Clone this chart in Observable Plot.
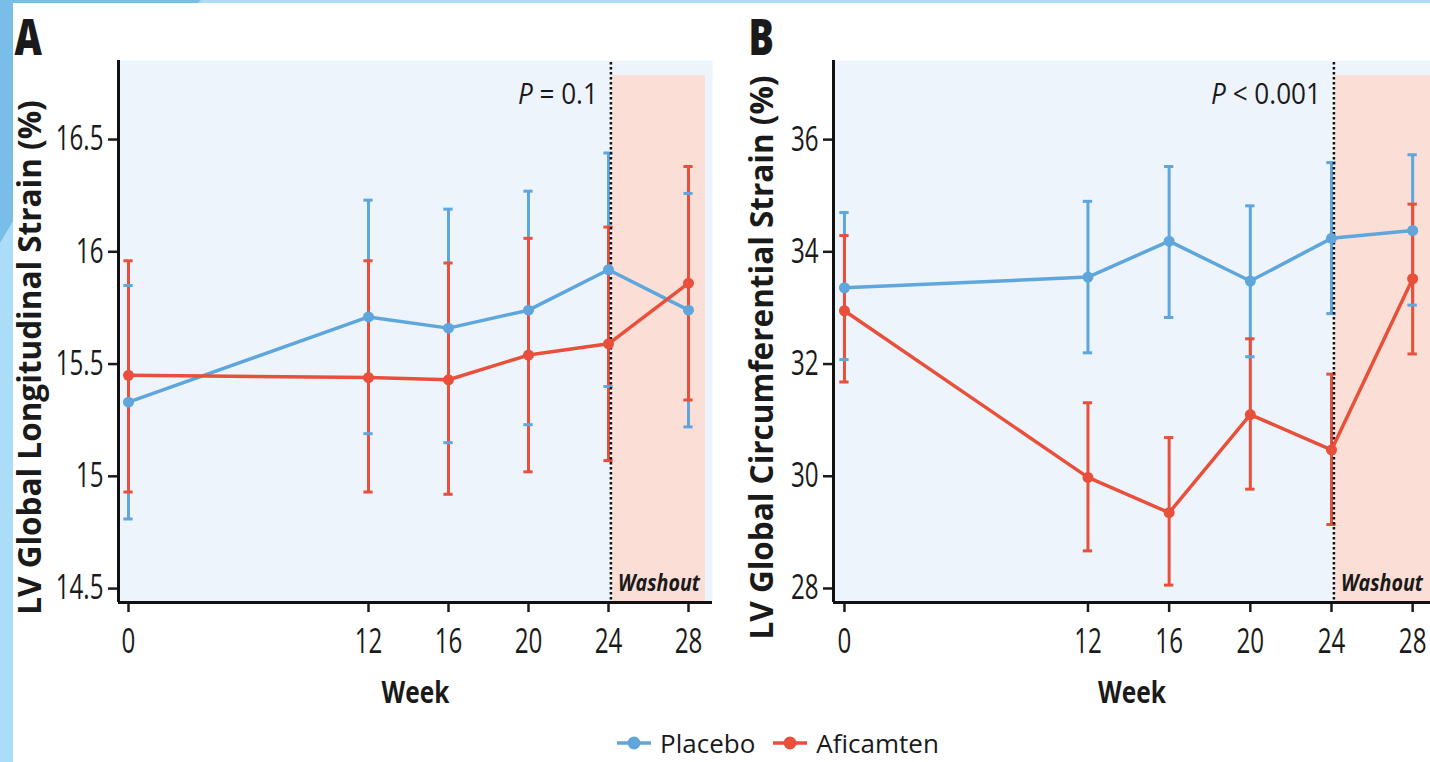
<!DOCTYPE html>
<html>
<head>
<meta charset="utf-8">
<script src="https://cdn.jsdelivr.net/npm/d3@7"></script>
<script src="https://cdn.jsdelivr.net/npm/@observablehq/plot@0.6"></script>
<style>
html, body { margin: 0; padding: 0; background: #fff; }
body { width: 1430px; height: 762px; position: relative; overflow: hidden; font-family: "Open Sans", sans-serif; }
.strip { position: absolute; }
#leftDark { left: 0; top: 0; width: 13px; height: 762px; background: #79bde9; }
#leftLight { left: 0; top: 0; width: 13px; height: 762px; background: #abdcf8; clip-path: polygon(0 243px, 13px 221px, 13px 100%, 0 100%); }
#topDark { left: 0; top: 0; width: 1430px; height: 3px; background: #79bde9; }
#topLight { left: 0; top: 0; width: 1430px; height: 3px; background: #abdcf8; clip-path: polygon(201px 0, 100% 0, 100% 100%, 198px 100%); }
#panelA { position: absolute; left: 0; top: 0; }
#panelB { position: absolute; left: 715px; top: 0; }
#legend { position: absolute; left: 0; top: 724px; width: 1430px; height: 38px; display: flex; justify-content: center; align-items: center; gap: 18px; padding-left: 126px; box-sizing: border-box; }
.item { display: flex; align-items: center; gap: 9px; font-size: 26px; color: #1a1a1a; }
</style>
</head>
<body>
<div class="strip" id="leftDark"></div>
<div class="strip" id="leftLight"></div>
<div class="strip" id="topDark"></div>
<div class="strip" id="topLight"></div>
<div id="panelA"></div>
<div id="panelB"></div>
<div id="legend"></div>
<script>
// ---- Data ----
const weeks = [0, 12, 16, 20, 24, 28];
const series = ["Placebo", "Aficamten"];
const colors = ["#5ea6dc", "#e8503b"];

// Panel A: LV global longitudinal strain (%)
const glsPlaceboMean = [15.33, 15.71, 15.66, 15.74, 15.92, 15.74];
const glsPlaceboLow  = [14.81, 15.19, 15.15, 15.23, 15.40, 15.22];
const glsPlaceboHigh = [15.85, 16.23, 16.19, 16.27, 16.44, 16.26];
const glsAficMean    = [15.45, 15.44, 15.43, 15.54, 15.59, 15.86];
const glsAficLow     = [14.93, 14.93, 14.92, 15.02, 15.07, 15.34];
const glsAficHigh    = [15.96, 15.96, 15.95, 16.06, 16.11, 16.38];
const glsTicks = [14.5, 15, 15.5, 16, 16.5];

// Panel B: LV global circumferential strain (%)
const gcsPlaceboMean = [33.36, 33.55, 34.19, 33.48, 34.24, 34.38];
const gcsPlaceboLow  = [32.08, 32.20, 32.83, 32.13, 32.90, 33.05];
const gcsPlaceboHigh = [34.70, 34.90, 35.52, 34.82, 35.59, 35.73];
const gcsAficMean    = [32.95, 29.98, 29.35, 31.10, 30.47, 33.52];
const gcsAficLow     = [31.68, 28.67, 28.06, 29.77, 29.14, 32.18];
const gcsAficHigh    = [34.29, 31.31, 30.69, 32.45, 31.82, 34.85];
const gcsTicks = [28, 30, 32, 34, 36];

const pLabels = ["P = 0.1", "P < 0.001"];
const yTitles = ["LV Global Longitudinal Strain (%)", "LV Global Circumferential Strain (%)"];
const panelLetters = ["A", "B"];
const washoutLabel = "Washout";
const washStart = 24.12;
const washEnd = 28.85;
const xTitle = "Week";

// ---- Helpers ----
function rows(mean0, low0, high0, mean1, low1, high1) {
  const out = [];
  const sets = [[mean0, low0, high0], [mean1, low1, high1]];
  sets.forEach(([m, l, h], s) => weeks.forEach((w, i) => out.push({week: w, series: series[s], mean: m[i], low: l[i], high: h[i]})));
  return out;
}

const FONT = '"Open Sans", "Liberation Sans", sans-serif';
const SVG_H = 712;
const PLOT_BOTTOM = 602;

function panel(cfg) {
  const data = cfg.data;
  const cap = 0.23;
  const svg = Plot.plot({
    width: cfg.width,
    height: SVG_H,
    marginLeft: 118,
    marginRight: cfg.marginRight,
    marginTop: 60,
    marginBottom: SVG_H - PLOT_BOTTOM,
    x: {domain: cfg.xDomain},
    y: {domain: cfg.yDomain},
    color: {domain: series, range: colors},
    style: {fontFamily: FONT, fontSize: "31px", color: "#1a1a1a", background: "transparent", overflow: "visible"},
    marks: [
      Plot.frame({fill: "#eef4fb", stroke: null}),
      Plot.rect([{start: washStart + 0.08, end: cfg.washEnd}], {x1: "start", x2: "end", fill: "#fbdfd6", insetTop: 15}),
      Plot.ruleX(data, {x: "week", y1: "low", y2: "high", stroke: "series", strokeWidth: 3}),
      Plot.ruleY(data, {y: "low", x1: d => d.week - cap, x2: d => d.week + cap, stroke: "series", strokeWidth: 3}),
      Plot.ruleY(data, {y: "high", x1: d => d.week - cap, x2: d => d.week + cap, stroke: "series", strokeWidth: 3}),
      Plot.ruleX([washStart], {stroke: "#111", strokeWidth: 2.5, strokeDasharray: "2.5,2.5", insetTop: 2}),
      Plot.line(data, {x: "week", y: "mean", stroke: "series", z: "series", strokeWidth: 3.5}),
      Plot.dot(data, {x: "week", y: "mean", fill: "series", r: 5.5}),
      Plot.axisX({ticks: weeks, tickSize: 10, tickPadding: 16, label: null, strokeWidth: 2.5, fontSize: 34, tickFormat: d => `${d}`}),
      Plot.axisY({ticks: cfg.yTicks, tickSize: 10, tickPadding: 5, label: null, strokeWidth: 2.5, fontSize: 34, tickFormat: d => `${d}`}),
      Plot.ruleX([cfg.xDomain[0]], {stroke: "#111", strokeWidth: 3}),
      Plot.ruleY([cfg.yDomain[0]], {stroke: "#111", strokeWidth: 3}),
      Plot.text([cfg.yTitle], {frameAnchor: "left", rotate: -90, dx: cfg.titleDx, dy: 26, textAnchor: "middle", lineAnchor: "middle", fontWeight: 700, fontSize: 31.5}),
      Plot.text([xTitle], {frameAnchor: "bottom", dy: 78, lineAnchor: "top", fontWeight: 700, fontSize: 31}),
      Plot.text([cfg.letter], {frameAnchor: "top-left", dx: cfg.letterDx, dy: -40, textAnchor: "start", lineAnchor: "top", fontWeight: 800, fontSize: 49}),
      Plot.text([{x: washStart, label: cfg.pLabel}], {x: "x", text: "label", frameAnchor: "top", dy: 23, dx: -13, textAnchor: "end", lineAnchor: "top", fontSize: 29}),
      Plot.text([{x: washStart, label: washoutLabel}], {x: "x", text: "label", frameAnchor: "bottom", dy: -29, dx: 7, textAnchor: "start", lineAnchor: "top", fontWeight: 700, fontStyle: "italic", fontSize: 24})
    ]
  });
  // italic P in p-value annotation
  svg.querySelectorAll("text").forEach(t => {
    if (t.textContent === cfg.pLabel) {
      const rest = t.textContent.slice(1);
      t.textContent = "";
      const ts = document.createElementNS("http://www.w3.org/2000/svg", "tspan");
      ts.setAttribute("font-style", "italic");
      ts.textContent = "P";
      t.append(ts, rest);
    }
  });
  return svg;
}

// condensed look of the original typeface: narrow the glyphs horizontally
function condenseFactor(s) {
  if (/^[\d.]+$/.test(s)) return 0.71;
  if (s === xTitle) return 0.79;
  if (panelLetters.includes(s)) return 0.77;
  if (pLabels.includes(s)) return 0.9;
  if (s === washoutLabel) return 0.82;
  return 1;
}
function condense(svg) {
  svg.querySelectorAll("text").forEach(t => {
    const f = condenseFactor(t.textContent);
    if (f === 1) return;
    const len = t.getComputedTextLength();
    t.setAttribute("textLength", (len * f).toFixed(2));
    t.setAttribute("lengthAdjust", "spacingAndGlyphs");
  });
}

const svgA = panel({
  data: rows(glsPlaceboMean, glsPlaceboLow, glsPlaceboHigh, glsAficMean, glsAficLow, glsAficHigh),
  width: 715, marginRight: 3,
  xDomain: [-0.5, 29.2], yDomain: [14.438, 16.852], yTicks: glsTicks,
  washEnd: washEnd, yTitle: yTitles[0], titleDx: -88, letter: panelLetters[0], letterDx: -104, pLabel: pLabels[0]
});
document.getElementById("panelA").append(svgA);
condense(svgA);

const svgB = panel({
  data: rows(gcsPlaceboMean, gcsPlaceboLow, gcsPlaceboHigh, gcsAficMean, gcsAficLow, gcsAficHigh),
  width: 715, marginRight: 0,
  xDomain: [-0.54, 28.88], yDomain: [27.75, 37.41], yTicks: gcsTicks,
  washEnd: 28.88, yTitle: yTitles[1], titleDx: -71, letter: panelLetters[1], letterDx: -85, pLabel: pLabels[1]
});
document.getElementById("panelB").append(svgB);
condense(svgB);

// ---- Legend ----
const legend = document.getElementById("legend");
series.forEach((s, i) => {
  const item = document.createElement("div");
  item.className = "item";
  const sw = document.createElementNS("http://www.w3.org/2000/svg", "svg");
  sw.setAttribute("width", 34); sw.setAttribute("height", 16);
  sw.innerHTML = `<line x1="0" y1="8" x2="34" y2="8" stroke="${colors[i]}" stroke-width="3.5"/><circle cx="17" cy="8" r="6.5" fill="${colors[i]}"/>`;
  const label = document.createElement("span");
  label.textContent = s;
  item.append(sw, label);
  legend.append(item);
});
</script>
</body>
</html>
